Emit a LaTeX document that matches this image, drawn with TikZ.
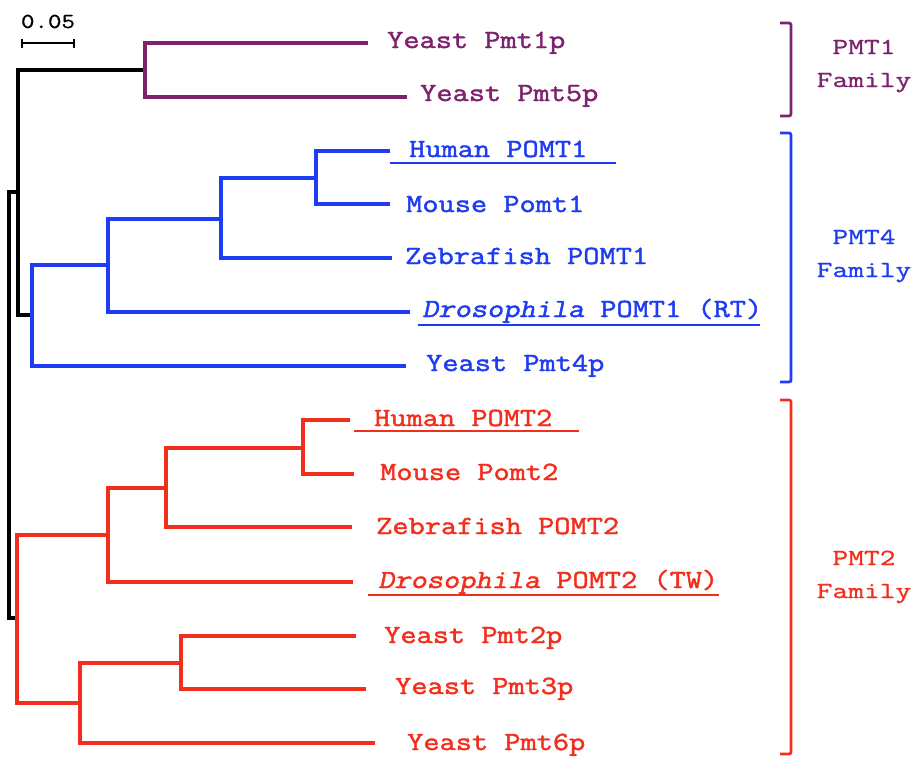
\documentclass[tikz,border=0pt]{standalone}
\usepackage{fontspec}
% slab-serif typewriter faces, widened to a Courier-like pitch
\newfontfamily\leaffont[FakeStretch=1.20, FakeBold=1.7]{Latin Modern Mono}
\newfontfamily\leafslant[FakeStretch=1.20, FakeBold=1.7, FakeSlant=0.21]{Latin Modern Mono}
\newfontfamily\famfont[FakeStretch=1.33, FakeBold=1.0]{Latin Modern Mono}
\newfontfamily\barfont[FakeStretch=1.23, FakeBold=0.8]{Latin Modern Mono}
\newcommand{\species}[1]{{\leafslant #1}}
\definecolor{clpurple}{RGB}{126,34,110}
\definecolor{clblue}{RGB}{30,60,242}
\definecolor{clred}{RGB}{242,46,28}
\tikzset{
  branch/.style={line width=3.2pt},
  leaf/.style={anchor=base west, inner sep=0pt, font=\leaffont\fontsize{26.2}{31}\selectfont},
  famlabel/.style={anchor=base, inner sep=0pt, align=center, font=\famfont\fontsize{23}{33}\selectfont},
  uline/.style={line width=1.6pt},
  bracket/.style={line width=2.7pt, rounded corners=2pt},
}
\begin{document}
\begin{tikzpicture}[x=1pt,y=-1pt]
\useasboundingbox[fill=white] (0,0) rectangle (918,756);

% scale bar
\node[anchor=base, inner sep=0pt, font=\barfont\fontsize{21.3}{26}\selectfont] (scl) at (48,28) {0.05};
\draw[line width=2.4pt] (22,43) -- (74,43);
\draw[line width=1.8pt] (22,38.5) -- (22,47.5) (74,38.5) -- (74,47.5);

% internal nodes of the tree
\coordinate (root) at (9,405);
\coordinate (A)  at (18,192);
\coordinate (P)  at (145,70);
\coordinate (B)  at (32,315);
\coordinate (B1) at (108,265);
\coordinate (B2) at (221,219);
\coordinate (B3) at (316,178);
\coordinate (R)  at (17,618);
\coordinate (R1) at (108,535);
\coordinate (R2) at (166,488);
\coordinate (R3) at (303,448);
\coordinate (R5) at (80,703);
\coordinate (R6) at (181,663);

% branch tips
\coordinate (t1)  at (368,43);
\coordinate (t5)  at (407,97);
\coordinate (th1) at (390,151);
\coordinate (tm1) at (390,204);
\coordinate (tz1) at (392,258);
\coordinate (td1) at (410,312);
\coordinate (t4)  at (406,366);
\coordinate (th2) at (350,420);
\coordinate (tm2) at (354,474);
\coordinate (tz2) at (352,527);
\coordinate (td2) at (353,582);
\coordinate (t2)  at (356,636);
\coordinate (t3)  at (366,689);
\coordinate (t6)  at (375,743);

% black backbone
\draw[branch] (root) |- (A);
\draw[branch] (root) |- (R);
\draw[branch] (A) |- (P);
\draw[branch] (A) |- (B);

% PMT1 clade
\draw[branch, clpurple] (P) |- (t1);
\draw[branch, clpurple] (P) |- (t5);

% PMT4 clade
\draw[branch, clblue] (B) |- (B1);
\draw[branch, clblue] (B) |- (t4);
\draw[branch, clblue] (B1) |- (B2);
\draw[branch, clblue] (B1) |- (td1);
\draw[branch, clblue] (B2) |- (B3);
\draw[branch, clblue] (B2) |- (tz1);
\draw[branch, clblue] (B3) |- (th1);
\draw[branch, clblue] (B3) |- (tm1);

% PMT2 clade
\draw[branch, clred] (R) |- (R1);
\draw[branch, clred] (R) |- (R5);
\draw[branch, clred] (R1) |- (R2);
\draw[branch, clred] (R1) |- (td2);
\draw[branch, clred] (R2) |- (R3);
\draw[branch, clred] (R2) |- (tz2);
\draw[branch, clred] (R3) |- (th2);
\draw[branch, clred] (R3) |- (tm2);
\draw[branch, clred] (R5) |- (R6);
\draw[branch, clred] (R5) |- (t6);
\draw[branch, clred] (R6) |- (t2);
\draw[branch, clred] (R6) |- (t3);

% leaf labels
\node[leaf, clpurple] (l1)  at (387,48)  {Yeast Pmt1p};
\node[leaf, clpurple] (l5)  at (420,101) {Yeast Pmt5p};
\node[leaf, clblue]   (lh1) at (409,157) {Human POMT1};
\node[leaf, clblue]   (lm1) at (406,212) {Mouse Pomt1};
\node[leaf, clblue]   (lz1) at (405,264) {Zebrafish POMT1};
\node[leaf, clblue]   (ld1) at (422,317) {\species{Drosophila} POMT1 (RT)};
\node[leaf, clblue]   (l4)  at (426,371) {Yeast Pmt4p};
\node[leaf, clred]    (lh2) at (374,426) {Human POMT2};
\node[leaf, clred]    (lm2) at (380,480) {Mouse Pomt2};
\node[leaf, clred]    (lz2) at (376,534) {Zebrafish POMT2};
\node[leaf, clred]    (ld2) at (378,588) {\species{Drosophila} POMT2 (TW)};
\node[leaf, clred]    (l2)  at (384,643) {Yeast Pmt2p};
\node[leaf, clred]    (l3)  at (395,694) {Yeast Pmt3p};
\node[leaf, clred]    (l6)  at (407,750) {Yeast Pmt6p};

% underlines
\draw[uline, clblue] (390,163) -- (616,163);
\draw[uline, clblue] (418,325) -- (760,325);
\draw[uline, clred]  (354,431) -- (579,431);
\draw[uline, clred]  (368,595) -- (719,595);

% family brackets
\draw[bracket, clpurple] (780,23) -- (791,23) -- (791,116) -- (780,116);
\draw[bracket, clblue]   (780,133) -- (791,133) -- (791,382) -- (780,382);
\draw[bracket, clred]    (780,400) -- (791,400) -- (791,754) -- (780,754);

% family names
\node[famlabel, clpurple] (f1) at (864,87)  {PMT1\\Family};
\node[famlabel, clblue]   (f4) at (864,277) {PMT4\\Family};
\node[famlabel, clred]    (f2) at (864,598) {PMT2\\Family};
\end{tikzpicture}
\end{document}
